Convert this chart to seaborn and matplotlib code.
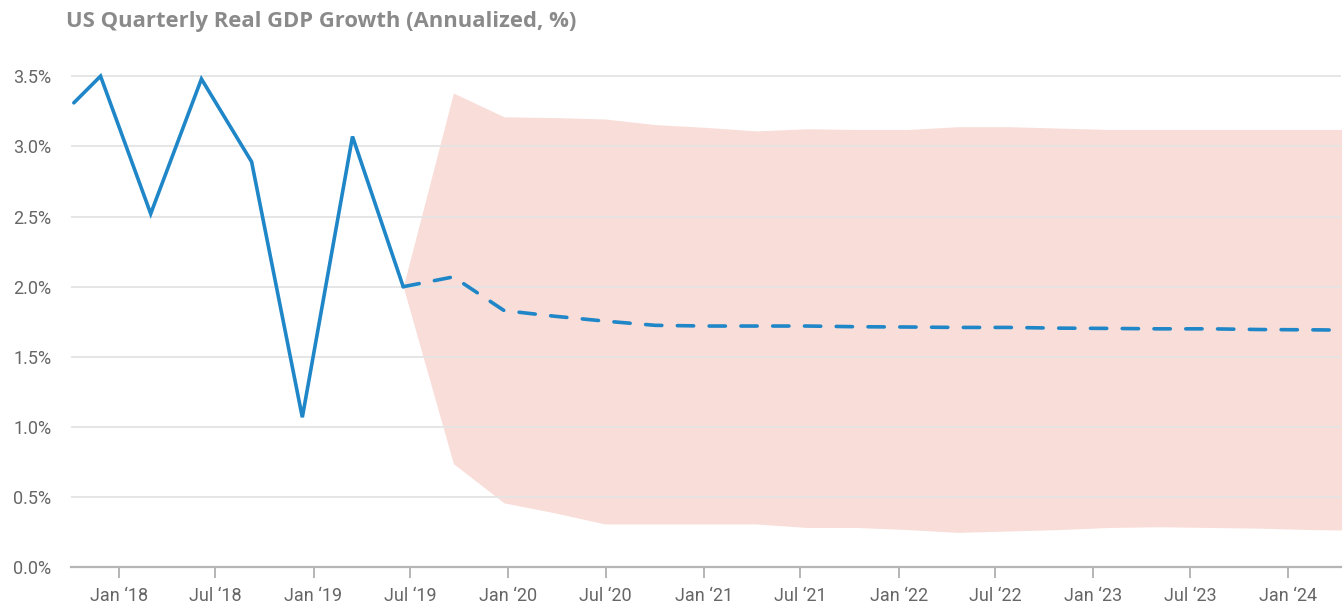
import pandas as pd
import numpy as np
import matplotlib
matplotlib.use("Agg")
import matplotlib.pyplot as plt
import matplotlib.dates as mdates
from matplotlib.ticker import FuncFormatter
import seaborn as sns

# historical quarterly real GDP growth (annualized %)
hist_dates = ["2017-10-09", "2017-11-28", "2018-03-02", "2018-06-05", "2018-09-07",
              "2018-12-11", "2019-03-15", "2019-06-18"]
hist_values = [3.31, 3.50, 2.52, 3.48, 2.89, 1.07, 3.07, 2.00]

# forecast: median path with lower / upper band
fc_dates = ["2019-06-18", "2019-09-20", "2019-12-24", "2020-03-27", "2020-06-30",
            "2020-10-02", "2021-01-05", "2021-04-09", "2021-07-13", "2021-10-15",
            "2022-01-18", "2022-04-22", "2022-07-26", "2022-10-28", "2023-01-30",
            "2023-05-05", "2023-08-07", "2023-11-10", "2024-02-12", "2024-05-17"]
fc_median = [2.00, 2.07, 1.83, 1.79, 1.755, 1.725, 1.72, 1.72, 1.72, 1.715,
             1.713, 1.71, 1.71, 1.705, 1.703, 1.70, 1.70, 1.695, 1.693, 1.69]
fc_lower = [2.00, 0.74, 0.46, 0.39, 0.31, 0.31, 0.31, 0.31, 0.285, 0.285,
            0.27, 0.25, 0.26, 0.27, 0.285, 0.29, 0.285, 0.28, 0.27, 0.265]
fc_upper = [2.00, 3.38, 3.21, 3.205, 3.195, 3.155, 3.135, 3.11, 3.125, 3.12,
            3.12, 3.14, 3.14, 3.13, 3.12, 3.12, 3.12, 3.12, 3.12, 3.12]

x_ticks = ["2018-01-01", "2018-07-01", "2019-01-01", "2019-07-01", "2020-01-01",
           "2020-07-01", "2021-01-01", "2021-07-01", "2022-01-01", "2022-07-01",
           "2023-01-01", "2023-07-01", "2024-01-01"]
y_ticks = [0.0, 0.5, 1.0, 1.5, 2.0, 2.5, 3.0, 3.5]

hist = pd.DataFrame({"date": pd.to_datetime(hist_dates), "growth": hist_values})
fc = pd.DataFrame({"date": pd.to_datetime(fc_dates), "median": fc_median,
                   "lower": fc_lower, "upper": fc_upper})

sns.set_style("white")
plt.rcParams["font.family"] = ["Roboto", "DejaVu Sans"]

blue = "#1f86c8"
grey = "#666666"

fig = plt.figure(figsize=(13.43, 6.10), dpi=100)
ax = fig.add_axes([0.0526, 0.0697, 0.946, 0.863])

ax.fill_between(fc["date"], fc["lower"], fc["upper"], color="#f9ddd8", lw=0, zorder=1)
sns.lineplot(data=hist, x="date", y="growth", ax=ax, color=blue, lw=2.6,
             solid_joinstyle="miter", zorder=3)
line = sns.lineplot(data=fc, x="date", y="median", ax=ax, color=blue, lw=2.6, zorder=3)
line.lines[-1].set_dashes((4.5, 4.3))
line.lines[-1].set_dash_capstyle("round")

ax.set_xlim(pd.Timestamp("2017-10-03"), pd.Timestamp("2024-04-09"))
ax.set_ylim(0, 3.75)

ax.set_yticks(y_ticks)
ax.yaxis.set_major_formatter(FuncFormatter(lambda v, p: f"{v:.1f}%"))
ax.set_xticks(pd.to_datetime(x_ticks))
ax.xaxis.set_major_formatter(FuncFormatter(
    lambda v, p: mdates.num2date(v).strftime("%b \u2018%y")))

ax.grid(axis="y", color="#e4e4e4", lw=1.3, zorder=2)
ax.set_axisbelow(False)
for g in ax.get_ygridlines():
    g.set_zorder(2)
for s in ["left", "right", "top"]:
    ax.spines[s].set_visible(False)
ax.spines["bottom"].set_color("#b5b5b5")
ax.spines["bottom"].set_linewidth(1.6)
ax.spines["bottom"].set_zorder(4)

ax.tick_params(axis="x", length=8, width=1.4, color="#b5b5b5", pad=6,
               labelsize=13, labelcolor=grey, direction="out", bottom=True)
ax.tick_params(axis="y", length=0, pad=14, labelsize=13, labelcolor=grey)
ax.set_xlabel("")
ax.set_ylabel("")

fig.text(0.049, 0.964, "US Quarterly Real GDP Growth (Annualized, %)", ha="left",
         va="center", fontsize=15.8, color="#8a8a8a", fontweight="bold",
         family=["Open Sans", "DejaVu Sans"])

fig.savefig("out.png", dpi=100)
